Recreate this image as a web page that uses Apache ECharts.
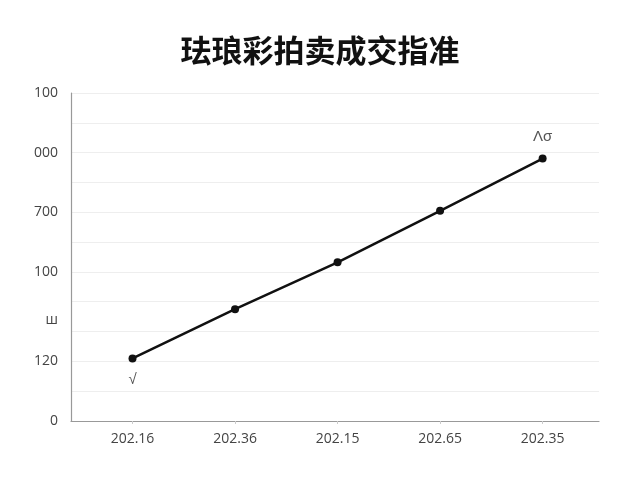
<!DOCTYPE html>
<html>
<head>
<meta charset="utf-8">
<script src="https://cdn.jsdelivr.net/npm/echarts@6/dist/echarts.min.js"></script>
<style>
  html, body { margin: 0; padding: 0; background: #fff; }
  #chart { width: 640px; height: 480px; }
</style>
</head>
<body>
<div id="chart"></div>
<script>
// 数据
const title = '珐琅彩拍卖成交指准'
const categories = ['202.16', '202.36', '202.15', '202.65', '202.35']
const values = [210, 375, 532, 705, 880]
const pointNotes = ['√', '', '', '', 'Λσ']
// y 轴标签（值 -> 文本）
const yTickValues = [0, 200, 340, 500, 700, 900, 1100]
const yTickLabels = ['0', '120', 'ш', '100', '700', '000', '100']

const chart = echarts.init(document.getElementById('chart'))

const option = {
  backgroundColor: '#fff',
  animation: false,
  title: {
    text: title,
    left: 'center',
    top: 30,
    textStyle: { fontFamily: 'Noto Sans CJK SC', fontWeight: 'bold', fontSize: 31, color: '#111' }
  },
  grid: { left: 71, right: 41, top: 93, bottom: 59 },
  xAxis: {
    type: 'value',
    min: -0.6,
    max: 4.55,
    splitLine: { show: false },
    axisLine: { lineStyle: { color: '#999', width: 1.2 } },
    axisTick: { show: true, customValues: [0, 1, 2, 3, 4], length: 3, lineStyle: { color: '#ccc' } },
    axisLabel: {
      customValues: [0, 1, 2, 3, 4],
      formatter: v => categories[Math.round(v)] || '',
      color: '#444',
      fontFamily: 'Open Sans',
      fontSize: 14,
      margin: 11
    }
  },
  yAxis: {
    type: 'value',
    min: 0,
    max: 1100,
    interval: 100,
    axisLine: { show: true, onZero: false, lineStyle: { color: '#999', width: 1.2 } },
    axisTick: { show: false },
    splitLine: { lineStyle: { color: '#eee', width: 1 } },
    axisLabel: {
      customValues: yTickValues,
      formatter: v => {
        const i = yTickValues.indexOf(v)
        return i >= 0 ? yTickLabels[i] : ''
      },
      color: '#444',
      fontFamily: 'Open Sans',
      fontSize: 14,
      margin: 13
    }
  },
  series: [{
    type: 'line',
    data: values.map((v, i) => ({
      value: [i, v],
      label: { position: i === 0 ? 'bottom' : 'top' }
    })),
    symbol: 'circle',
    symbolSize: 8,
    itemStyle: { color: '#111' },
    lineStyle: { color: '#111', width: 2.5 },
    label: {
      show: true,
      formatter: p => pointNotes[p.dataIndex],
      color: '#555',
      fontSize: 15,
      distance: 10
    }
  }]
}

chart.setOption(option)
window.addEventListener('resize', () => chart.resize())
</script>
</body>
</html>
